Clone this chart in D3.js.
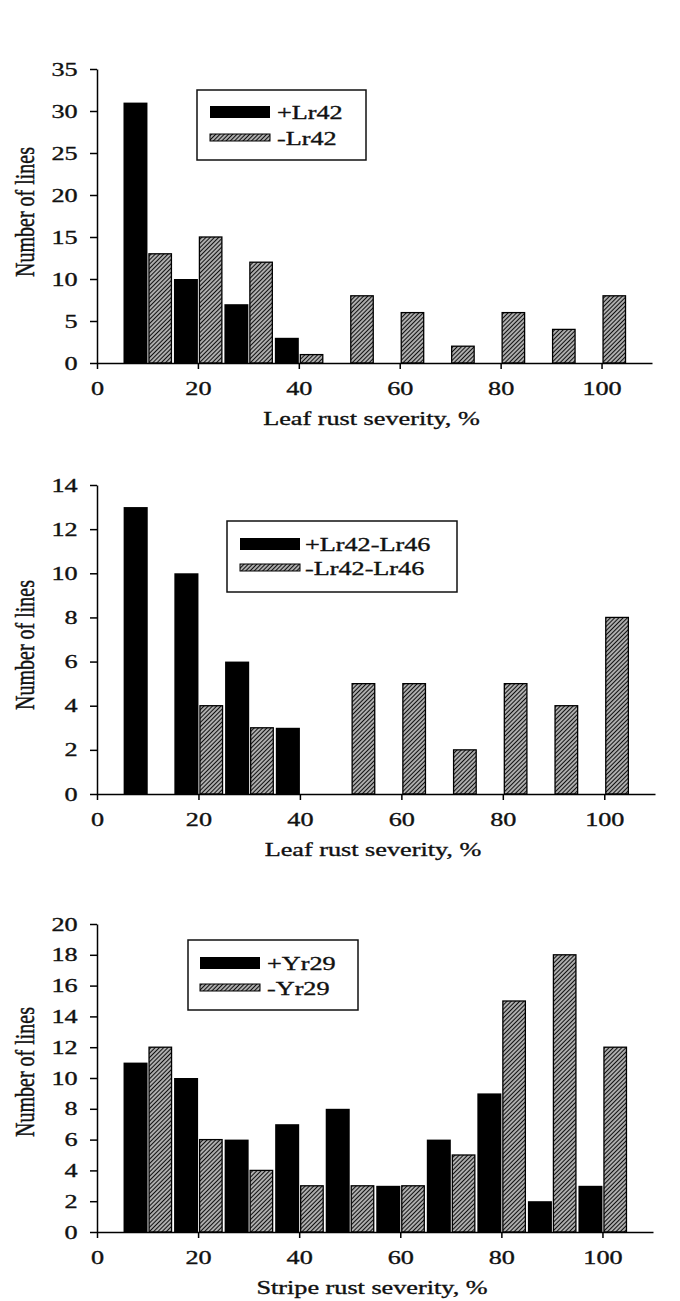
<!DOCTYPE html>
<html>
<head>
<meta charset="utf-8">
<script src="https://cdn.jsdelivr.net/npm/d3@7"></script>
<style>
  body { margin: 0; background: #fff; }
  text { font-family: "Liberation Serif", "Times New Roman", serif; fill: #111; stroke: #111; stroke-width: 0.35px; }
</style>
</head>
<body>
<svg id="chart" width="680" height="1301"></svg>
<script>
// severity classes (bin centres), shared by all three panels
const bins = [10, 20, 30, 40, 50, 60, 70, 80, 90, 100];
const xTicks = [0, 20, 40, 60, 80, 100];

// panel 1: Lr42
const lr42Names = ["+Lr42", "-Lr42"];
const lr42Plus = [31, 10, 7, 3, 0, 0, 0, 0, 0, 0];
const lr42Minus = [13, 15, 12, 1, 8, 6, 2, 6, 4, 8];
const lr42Ticks = [0, 5, 10, 15, 20, 25, 30, 35];

// panel 2: Lr42-Lr46
const lr46Names = ["+Lr42-Lr46", "-Lr42-Lr46"];
const lr46Plus = [13, 10, 6, 3, 0, 0, 0, 0, 0, 0];
const lr46Minus = [0, 4, 3, 0, 5, 5, 2, 5, 4, 8];
const lr46Ticks = [0, 2, 4, 6, 8, 10, 12, 14];

// panel 3: Yr29
const yr29Names = ["+Yr29", "-Yr29"];
const yr29Plus = [11, 10, 6, 7, 8, 3, 6, 9, 2, 3];
const yr29Minus = [12, 6, 4, 3, 3, 3, 5, 15, 18, 12];
const yr29Ticks = [0, 2, 4, 6, 8, 10, 12, 14, 16, 18, 20];

const leafTitle = "Leaf rust severity, %";
const stripeTitle = "Stripe rust severity, %";
const yTitle = "Number of lines";

const svg = d3.select("#chart");
const barW = 4.75;     // bar width in severity units
const stretch = 1.38;  // the source figure is stretched horizontally

// hatch fill ("/" lines)
const pat = svg.append("defs").append("pattern")
    .attr("id", "hatch")
    .attr("patternUnits", "userSpaceOnUse")
    .attr("width", 3).attr("height", 3)
    .attr("patternTransform", "rotate(45)");
pat.append("rect").attr("width", 3).attr("height", 3).attr("fill", "#e0e0e0");
pat.append("line").attr("x1", 1.5).attr("y1", 0).attr("x2", 1.5).attr("y2", 3)
    .attr("stroke", "#111").attr("stroke-width", 1.5);

const panels = [
    {names: lr42Names, plus: lr42Plus, minus: lr42Minus, ticks: lr42Ticks, title: leafTitle,
     x0: 97, x1: 652, top: 69, bottom: 363, labelY: 212,
     legend: {x: 197, y: 90, w: 169, h: 70, sx: 210, rows: [112, 138], text: 277}},
    {names: lr46Names, plus: lr46Plus, minus: lr46Minus, ticks: lr46Ticks, title: leafTitle,
     x0: 97, x1: 655, top: 485, bottom: 794, labelY: 645,
     legend: {x: 227, y: 521, w: 230, h: 71, sx: 240, rows: [544, 568], text: 305}},
    {names: yr29Names, plus: yr29Plus, minus: yr29Minus, ticks: yr29Ticks, title: stripeTitle,
     x0: 97, x1: 653, top: 924, bottom: 1232, labelY: 1072,
     legend: {x: 188, y: 940, w: 170, h: 70, sx: 200, rows: [963, 988], text: 267}}
];

panels.forEach(drawPanel);

function drawPanel(p) {
    const yMax = d3.max(p.ticks);
    const x = d3.scaleLinear().domain([0, 110]).range([p.x0, p.x1]);
    const y = d3.scaleLinear().domain([0, yMax]).range([p.bottom, p.top]);
    const g = svg.append("g");

    const plusData = bins.map((b, i) => ({b, v: p.plus[i]})).filter(d => d.v > 0);
    const minusData = bins.map((b, i) => ({b, v: p.minus[i]})).filter(d => d.v > 0);

    g.append("g").selectAll("rect").data(plusData).join("rect")
        .attr("x", d => x(d.b - barW))
        .attr("width", d => x(d.b) - x(d.b - barW))
        .attr("y", d => y(d.v))
        .attr("height", d => y(0) - y(d.v))
        .attr("fill", "#000");

    g.append("g").selectAll("rect").data(minusData).join("rect")
        .attr("x", d => x(d.b) + 1.5)
        .attr("width", d => x(d.b + barW) - x(d.b) - 1.5)
        .attr("y", d => y(d.v))
        .attr("height", d => y(0) - y(d.v))
        .attr("fill", "url(#hatch)")
        .attr("stroke", "#000")
        .attr("stroke-width", 1.3);

    // axes
    const yAx = g.append("g")
        .attr("transform", `translate(${p.x0},0)`)
        .call(d3.axisLeft(y).tickValues(p.ticks).tickSize(7).tickPadding(7).tickSizeOuter(0));
    const xAx = g.append("g")
        .attr("transform", `translate(0,${p.bottom})`)
        .call(d3.axisBottom(x).tickValues(xTicks).tickSize(6).tickPadding(12.5).tickSizeOuter(0));

    [yAx, xAx].forEach(ax => {
        ax.attr("font-family", null).attr("font-size", null);
        ax.select(".domain").attr("stroke", "#000").attr("stroke-width", 1.5);
        ax.selectAll(".tick line").attr("stroke", "#000").attr("stroke-width", 1.5);
        ax.selectAll(".tick text")
            .style("font-size", "19px")
            .attr("fill", "#111")
            .attr("transform", `scale(${stretch},1)`);
    });

    // axis titles
    g.append("text")
        .attr("transform", `translate(${(p.x0 + p.x1) / 2 - 3},${p.bottom + 62}) scale(${stretch},1)`)
        .attr("text-anchor", "middle")
        .style("font-size", "19px")
        .text(p.title);

    g.append("text")
        .attr("transform", `translate(34,${p.labelY}) scale(${stretch},1) rotate(-90)`)
        .attr("text-anchor", "middle")
        .style("font-size", "20px")
        .text(yTitle);

    // legend
    const L = p.legend;
    const lg = g.append("g");
    lg.append("rect")
        .attr("x", L.x).attr("y", L.y).attr("width", L.w).attr("height", L.h)
        .attr("fill", "#fff").attr("stroke", "#111").attr("stroke-width", 1.5);
    lg.append("rect")
        .attr("x", L.sx).attr("y", L.rows[0] - 6).attr("width", 60).attr("height", 12)
        .attr("fill", "#000");
    lg.append("rect")
        .attr("x", L.sx).attr("y", L.rows[1] - 4).attr("width", 60).attr("height", 7)
        .attr("fill", "url(#hatch)").attr("stroke", "#000").attr("stroke-width", 1);
    p.names.forEach((name, i) => {
        lg.append("text")
            .attr("transform", `translate(${L.text},${L.rows[i]}) scale(${stretch},1)`)
            .attr("dy", "0.35em")
            .style("font-size", "19px")
            .text(name);
    });
}
</script>
</body>
</html>
